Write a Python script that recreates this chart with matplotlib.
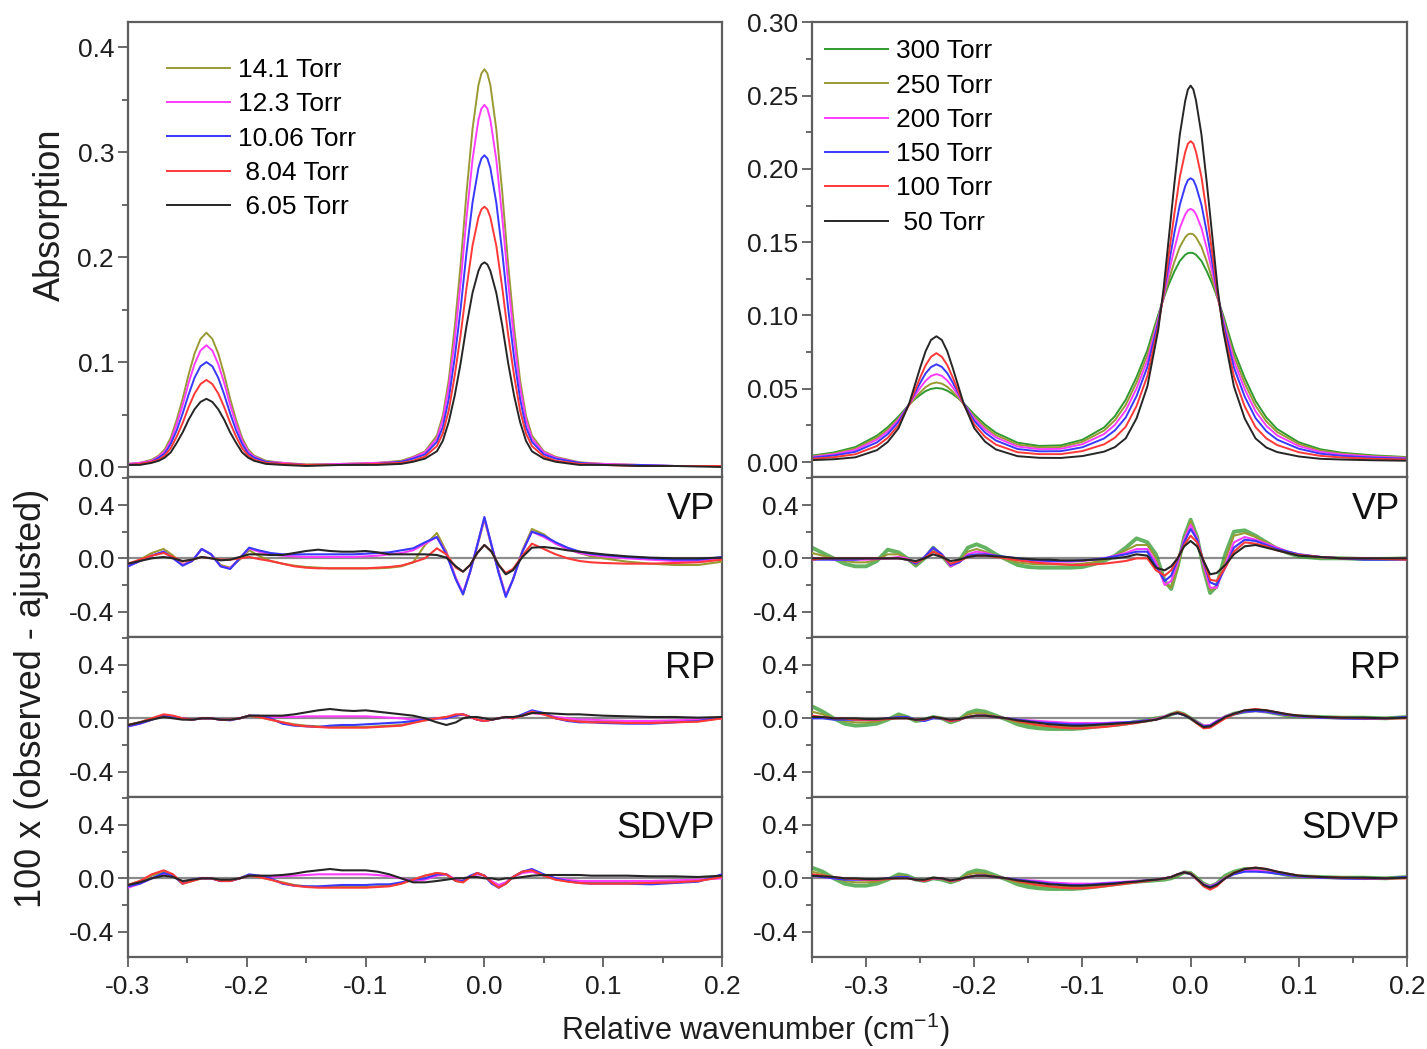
import matplotlib
matplotlib.use("Agg")
import matplotlib.pyplot as plt
from matplotlib.ticker import MultipleLocator, FuncFormatter

plt.rcParams["font.family"] = ["Liberation Sans", "DejaVu Sans"]
plt.rcParams["axes.unicode_minus"] = False
plt.rcParams["mathtext.default"] = "regular"

# ---------------- absorption spectra, left (low pressure) ----------------
x_abs_l = [-0.300, -0.290, -0.280, -0.274, -0.269, -0.264, -0.259, -0.254, -0.249, -0.244,
           -0.239, -0.234, -0.229, -0.224, -0.219, -0.214, -0.209, -0.204, -0.199, -0.194,
           -0.184, -0.170, -0.150, -0.120, -0.090, -0.070, -0.060, -0.050, -0.040, -0.035,
           -0.030, -0.025, -0.020, -0.015, -0.010, -0.005, -0.0025, 0.000, 0.0025, 0.005, 0.010,
           0.015, 0.020, 0.025, 0.030, 0.035, 0.040, 0.050, 0.060, 0.080, 0.100, 0.130, 0.160, 0.200]
abs_141 = [0.003, 0.004, 0.007, 0.011, 0.017, 0.028, 0.045, 0.065, 0.088, 0.108, 0.122, 0.128, 0.122,
           0.108, 0.088, 0.065, 0.045, 0.028, 0.017, 0.011, 0.006, 0.004, 0.0025, 0.003, 0.004, 0.006,
           0.0097, 0.015, 0.030, 0.049, 0.083, 0.133, 0.193, 0.262, 0.322, 0.364, 0.375, 0.379, 0.375,
           0.364, 0.322, 0.262, 0.193, 0.133, 0.083, 0.049, 0.030, 0.015, 0.0097, 0.0045, 0.003, 0.002,
           0.001, 0.001]
abs_123 = [0.003, 0.004, 0.006, 0.010, 0.015, 0.025, 0.041, 0.059, 0.080, 0.098, 0.111, 0.116, 0.111,
           0.098, 0.080, 0.059, 0.041, 0.025, 0.015, 0.010, 0.005, 0.004, 0.002, 0.003, 0.004, 0.005,
           0.009, 0.014, 0.027, 0.045, 0.076, 0.121, 0.176, 0.238, 0.293, 0.331, 0.3415, 0.345, 0.3415,
           0.331, 0.293, 0.238, 0.176, 0.121, 0.076, 0.045, 0.027, 0.014, 0.009, 0.004, 0.003, 0.002,
           0.001, 0.001]
abs_1006 = [0.002, 0.003, 0.005, 0.009, 0.013, 0.022, 0.035, 0.051, 0.069, 0.085, 0.096, 0.100, 0.096,
            0.085, 0.069, 0.051, 0.035, 0.022, 0.013, 0.009, 0.005, 0.003, 0.002, 0.002, 0.003, 0.005,
            0.008, 0.012, 0.024, 0.038, 0.065, 0.104, 0.151, 0.205, 0.252, 0.285, 0.294, 0.297, 0.294,
            0.285, 0.252, 0.205, 0.151, 0.104, 0.065, 0.038, 0.024, 0.012, 0.008, 0.004, 0.002, 0.002,
            0.001, 0.001]
abs_804 = [0.002, 0.003, 0.005, 0.007, 0.011, 0.018, 0.029, 0.042, 0.057, 0.070, 0.079, 0.083, 0.079,
           0.070, 0.057, 0.042, 0.029, 0.018, 0.011, 0.007, 0.004, 0.003, 0.002, 0.002, 0.003, 0.004,
           0.006, 0.010, 0.020, 0.032, 0.054, 0.087, 0.126, 0.171, 0.211, 0.238, 0.2455, 0.248, 0.2455,
           0.238, 0.211, 0.171, 0.126, 0.087, 0.054, 0.032, 0.020, 0.010, 0.006, 0.003, 0.002, 0.001,
           0.001, 0.001]
abs_605 = [0.002, 0.002, 0.004, 0.006, 0.009, 0.014, 0.023, 0.033, 0.045, 0.055, 0.062, 0.065, 0.062,
           0.055, 0.045, 0.033, 0.023, 0.014, 0.009, 0.006, 0.003, 0.002, 0.001, 0.002, 0.002, 0.003,
           0.005, 0.008, 0.015, 0.025, 0.043, 0.068, 0.099, 0.135, 0.166, 0.187, 0.193, 0.195, 0.193,
           0.187, 0.166, 0.135, 0.099, 0.068, 0.043, 0.025, 0.015, 0.008, 0.005, 0.002, 0.002, 0.001,
           0.001, 0.000]

# ---------------- absorption spectra, right (high pressure) ----------------
x_abs_r = [-0.350, -0.330, -0.310, -0.290, -0.280, -0.270, -0.260, -0.255, -0.250, -0.245,
           -0.240, -0.235, -0.230, -0.225, -0.220, -0.215, -0.210, -0.200, -0.190, -0.180,
           -0.160, -0.140, -0.120, -0.100, -0.080, -0.070, -0.060, -0.050, -0.040, -0.030,
           -0.025, -0.020, -0.015, -0.010, -0.005, -0.0025, 0.000, 0.0025, 0.005, 0.010, 0.015,
           0.020, 0.025, 0.030, 0.040, 0.050, 0.060, 0.070, 0.080, 0.100, 0.120, 0.140, 0.170, 0.200]
abs_300 = [0.0044, 0.0065, 0.0102, 0.0180, 0.0238, 0.0311, 0.0394, 0.0429, 0.0458, 0.0484, 0.0499,
           0.0505, 0.0501, 0.0487, 0.0464, 0.0436, 0.0403, 0.0324, 0.0255, 0.0200, 0.0132, 0.0110,
           0.0114, 0.0152, 0.0236, 0.0313, 0.0425, 0.0580, 0.0764, 0.1004, 0.1117, 0.1216, 0.1301,
           0.1372, 0.1414, 0.1425, 0.1428, 0.1425, 0.1414, 0.1372, 0.1300, 0.1215, 0.1116, 0.1003,
           0.0759, 0.0574, 0.0417, 0.0304, 0.0225, 0.0135, 0.0087, 0.0063, 0.0045, 0.0034]
abs_250 = [0.0040, 0.0058, 0.0092, 0.0166, 0.0223, 0.0298, 0.0391, 0.0435, 0.0475, 0.0511, 0.0534,
           0.0543, 0.0535, 0.0514, 0.0480, 0.0441, 0.0398, 0.0309, 0.0238, 0.0184, 0.0119, 0.0099,
           0.0102, 0.0138, 0.0215, 0.0285, 0.0390, 0.0543, 0.0730, 0.0986, 0.1118, 0.1248, 0.1366,
           0.1468, 0.1533, 0.1553, 0.1558, 0.1553, 0.1533, 0.1468, 0.1366, 0.1247, 0.1117, 0.0985,
           0.0725, 0.0537, 0.0384, 0.0277, 0.0205, 0.0123, 0.0078, 0.0057, 0.0040, 0.0031]
abs_200 = [0.0035, 0.0052, 0.0083, 0.0153, 0.0209, 0.0288, 0.0395, 0.0452, 0.0506, 0.0555, 0.0587,
           0.0600, 0.0588, 0.0557, 0.0510, 0.0457, 0.0401, 0.0297, 0.0222, 0.0168, 0.0106, 0.0088,
           0.0090, 0.0122, 0.0191, 0.0254, 0.0352, 0.0502, 0.0694, 0.0971, 0.1129, 0.1298, 0.1456,
           0.1597, 0.1689, 0.1718, 0.1727, 0.1718, 0.1689, 0.1597, 0.1456, 0.1297, 0.1128, 0.0970,
           0.0690, 0.0497, 0.0346, 0.0247, 0.0182, 0.0109, 0.0069, 0.0051, 0.0036, 0.0027]
abs_150 = [0.0030, 0.0044, 0.0070, 0.0134, 0.0191, 0.0274, 0.0397, 0.0470, 0.0540, 0.0605, 0.0648,
           0.0667, 0.0649, 0.0607, 0.0543, 0.0474, 0.0401, 0.0281, 0.0201, 0.0147, 0.0089, 0.0073,
           0.0074, 0.0101, 0.0161, 0.0216, 0.0304, 0.0450, 0.0649, 0.0952, 0.1141, 0.1357, 0.1565,
           0.1755, 0.1882, 0.1924, 0.1936, 0.1924, 0.1882, 0.1755, 0.1565, 0.1357, 0.1140, 0.0951,
           0.0645, 0.0446, 0.0300, 0.0210, 0.0153, 0.0091, 0.0057, 0.0042, 0.0030, 0.0023]
abs_100 = [0.0022, 0.0033, 0.0053, 0.0110, 0.0165, 0.0252, 0.0394, 0.0486, 0.0577, 0.0660, 0.0718,
           0.0743, 0.0718, 0.0662, 0.0579, 0.0488, 0.0397, 0.0256, 0.0172, 0.0119, 0.0067, 0.0054,
           0.0054, 0.0075, 0.0121, 0.0166, 0.0241, 0.0382, 0.0587, 0.0923, 0.1150, 0.1425, 0.1696,
           0.1945, 0.2115, 0.2172, 0.2189, 0.2172, 0.2115, 0.1945, 0.1696, 0.1425, 0.1149, 0.0922,
           0.0585, 0.0379, 0.0238, 0.0161, 0.0116, 0.0067, 0.0042, 0.0031, 0.0022, 0.0017]
abs_50 = [0.0013, 0.0019, 0.0032, 0.0081, 0.0137, 0.0231, 0.0403, 0.0524, 0.0644, 0.0756, 0.0833,
          0.0858, 0.0833, 0.0756, 0.0644, 0.0524, 0.0403, 0.0231, 0.0139, 0.0086, 0.0040, 0.0029,
          0.0028, 0.0041, 0.0071, 0.0102, 0.0162, 0.0298, 0.0516, 0.0900, 0.1183, 0.1542, 0.1901,
          0.2234, 0.2465, 0.2542, 0.2568, 0.2542, 0.2465, 0.2234, 0.1901, 0.1542, 0.1182, 0.0900,
          0.0516, 0.0297, 0.0161, 0.0099, 0.0068, 0.0038, 0.0022, 0.0017, 0.0012, 0.0009]

# ---------------- residuals x 100, left ----------------
x_res_l = [-0.300, -0.290, -0.280, -0.270,
           -0.262, -0.254, -0.246, -0.238, -0.230, -0.222, -0.214, -0.206, -0.198, -0.190,
           -0.180, -0.170, -0.160, -0.150, -0.140, -0.130, -0.120, -0.110, -0.100, -0.090,
           -0.080, -0.070, -0.060, -0.050,
           -0.040, -0.032, -0.024, -0.018, -0.012, -0.006, 0.000, 0.006, 0.012, 0.018, 0.024,
           0.032, 0.040,
           0.050, 0.060, 0.070, 0.080, 0.090, 0.100,
           0.120, 0.140, 0.160, 0.180, 0.200]
vp_141 = [-0.05, -0.01, 0.04, 0.07,
          0.02, -0.05, -0.02, 0.07, 0.03, -0.05, -0.07, -0.01, 0.06, 0.02,
          -0.02, -0.04, -0.055, -0.065, -0.07, -0.075, -0.075, -0.075, -0.075, -0.075, -0.07, -0.06, -0.03, 0.10,
          0.19, 0.05, -0.15, -0.27, -0.10, 0.09, 0.29, 0.09, -0.10, -0.28, -0.16, 0.06, 0.22,
          0.18, 0.11, 0.07, 0.04, 0.015, 0.0,
          -0.025, -0.04, -0.05, -0.05, -0.025]
vp_123 = [-0.06, -0.02, 0.02, 0.05,
          0.0, -0.05, -0.02, 0.07, 0.03, -0.06, -0.075, 0.0, 0.075, 0.05,
          0.03, 0.02, 0.015, 0.01, 0.01, 0.01, 0.01, 0.01, 0.015, 0.02, 0.03, 0.04, 0.06, 0.11,
          0.16, 0.04, -0.15, -0.26, -0.10, 0.10, 0.30, 0.10, -0.10, -0.28, -0.16, 0.05, 0.20,
          0.16, 0.11, 0.07, 0.04, 0.025, 0.015,
          0.0, -0.01, -0.02, -0.02, 0.0]
vp_1006 = [-0.06, -0.02, 0.02, 0.05,
           0.0, -0.055, -0.02, 0.07, 0.03, -0.06, -0.08, 0.0, 0.08, 0.06,
           0.04, 0.03, 0.03, 0.03, 0.03, 0.03, 0.03, 0.03, 0.035, 0.04, 0.045, 0.06, 0.075, 0.12,
           0.16, 0.03, -0.16, -0.27, -0.10, 0.10, 0.31, 0.10, -0.11, -0.29, -0.16, 0.05, 0.20,
           0.17, 0.12, 0.08, 0.05, 0.035, 0.025,
           0.01, 0.0, -0.01, -0.01, 0.01]
vp_804 = [-0.04, -0.01, 0.02, 0.04,
          0.01, -0.025, -0.01, 0.01, 0.0, -0.01, -0.01, 0.0, 0.01, -0.005,
          -0.02, -0.04, -0.06, -0.07, -0.075, -0.075, -0.075, -0.075, -0.075, -0.07, -0.065, -0.055, -0.03, 0.0,
          0.075, 0.03, -0.07, -0.10, -0.05, 0.04, 0.10, 0.05, -0.05, -0.11, -0.08, 0.02, 0.11,
          0.07, 0.03, 0.0, -0.02, -0.03, -0.035,
          -0.04, -0.04, -0.035, -0.03, -0.01]
vp_605 = [-0.04, -0.02, 0.0, 0.01,
          0.0, -0.02, -0.01, 0.01, 0.0, -0.015, -0.01, 0.01, 0.03, 0.03,
          0.025, 0.025, 0.04, 0.055, 0.065, 0.055, 0.05, 0.05, 0.055, 0.045, 0.03, 0.03, 0.03, 0.03,
          0.025, 0.005, -0.06, -0.10, -0.05, 0.04, 0.10, 0.05, -0.05, -0.12, -0.09, 0.01, 0.08,
          0.085, 0.075, 0.06, 0.05, 0.04, 0.03,
          0.015, 0.005, 0.0, 0.0, 0.005]

rp_141 = [-0.05, -0.03, 0.0, 0.02,
          0.01, 0.0, -0.01, 0.0, 0.0, -0.01, -0.01, 0.0, 0.02, 0.01,
          -0.01, -0.03, -0.045, -0.055, -0.06, -0.065, -0.065, -0.065, -0.065, -0.06, -0.055, -0.05, -0.03, -0.015,
          0.0, 0.01, 0.02, 0.03, 0.01, -0.01, -0.02, -0.01, 0.0, 0.01, 0.0, 0.02, 0.04,
          0.03, 0.0, -0.015, -0.02, -0.025, -0.025,
          -0.03, -0.03, -0.025, -0.02, 0.0]
rp_123 = [-0.06, -0.04, -0.01, 0.02,
          0.01, 0.0, -0.01, 0.0, 0.0, -0.01, -0.01, 0.0, 0.02, 0.015,
          0.01, 0.01, 0.01, 0.015, 0.015, 0.015, 0.015, 0.015, 0.015, 0.01, 0.005, 0.0, -0.01, -0.01,
          0.0, 0.0, 0.02, 0.03, 0.01, -0.01, -0.02, -0.01, 0.0, 0.01, 0.0, 0.02, 0.04,
          0.03, 0.01, 0.0, -0.01, -0.01, -0.015,
          -0.02, -0.02, -0.015, -0.01, 0.0]
rp_1006 = [-0.06, -0.04, -0.01, 0.02,
           0.01, 0.0, -0.01, 0.0, 0.0, -0.01, -0.015, 0.0, 0.02, 0.02,
           0.0, -0.04, -0.055, -0.06, -0.065, -0.055, -0.05, -0.05, -0.045, -0.04, -0.035, -0.03, -0.02, -0.01,
           0.0, 0.0, 0.02, 0.03, 0.01, -0.01, -0.02, -0.01, 0.0, 0.01, 0.0, 0.03, 0.06,
           0.04, 0.0, -0.02, -0.03, -0.03, -0.035,
           -0.04, -0.04, -0.03, -0.02, 0.01]
rp_804 = [-0.05, -0.03, 0.0, 0.03,
          0.02, 0.0, -0.01, 0.0, 0.0, -0.01, -0.01, 0.0, 0.02, 0.01,
          -0.01, -0.03, -0.05, -0.06, -0.065, -0.07, -0.07, -0.07, -0.07, -0.065, -0.06, -0.055, -0.035, -0.015,
          0.0, 0.01, 0.03, 0.03, 0.01, -0.01, -0.02, -0.01, 0.0, 0.01, 0.0, 0.02, 0.05,
          0.03, 0.0, -0.015, -0.025, -0.03, -0.03,
          -0.035, -0.035, -0.03, -0.025, 0.0]
rp_605 = [-0.05, -0.03, -0.01, 0.01,
          0.0, -0.01, -0.01, 0.0, 0.0, -0.01, -0.01, 0.0, 0.02, 0.02,
          0.02, 0.02, 0.03, 0.045, 0.06, 0.07, 0.06, 0.055, 0.06, 0.05, 0.04, 0.03, 0.02, 0.0,
          -0.03, -0.05, -0.03, 0.0, 0.01, 0.01, 0.0, -0.01, 0.0, 0.01, 0.01, 0.02, 0.04,
          0.04, 0.035, 0.03, 0.03, 0.025, 0.02,
          0.015, 0.01, 0.01, 0.005, 0.01]

sd_141 = [-0.05, -0.02, 0.02, 0.05,
          0.02, -0.04, -0.02, 0.0, 0.0, -0.02, -0.02, 0.0, 0.02, 0.01,
          -0.01, -0.03, -0.05, -0.06, -0.065, -0.065, -0.065, -0.065, -0.065, -0.06, -0.055, -0.04, -0.01, 0.02,
          0.04, 0.03, -0.02, -0.03, 0.01, 0.04, 0.02, -0.03, -0.06, -0.04, 0.01, 0.05, 0.06,
          0.02, -0.01, -0.02, -0.03, -0.035, -0.035,
          -0.035, -0.03, -0.025, -0.02, 0.01]
sd_123 = [-0.07, -0.04, 0.0, 0.03,
          0.02, -0.03, -0.01, 0.0, 0.0, -0.02, -0.02, 0.0, 0.02, 0.02,
          0.01, 0.015, 0.02, 0.025, 0.03, 0.03, 0.03, 0.03, 0.03, 0.025, 0.015, 0.0, -0.02, -0.01,
          0.02, 0.03, -0.01, -0.02, 0.01, 0.03, 0.02, -0.02, -0.05, -0.03, 0.01, 0.04, 0.05,
          0.02, 0.0, -0.01, -0.02, -0.02, -0.02,
          -0.02, -0.02, -0.015, -0.01, 0.0]
sd_1006 = [-0.06, -0.04, 0.0, 0.04,
           0.02, -0.04, -0.01, 0.0, 0.0, -0.02, -0.02, 0.0, 0.03, 0.02,
           0.0, -0.04, -0.055, -0.06, -0.06, -0.055, -0.05, -0.05, -0.05, -0.045, -0.045, -0.03, -0.01, 0.0,
           0.03, 0.03, -0.02, -0.02, 0.02, 0.04, 0.02, -0.04, -0.07, -0.04, 0.01, 0.05, 0.07,
           0.03, 0.0, -0.02, -0.035, -0.04, -0.04,
           -0.04, -0.045, -0.035, -0.025, 0.03]
sd_804 = [-0.05, -0.02, 0.03, 0.06,
          0.03, -0.04, -0.02, 0.0, 0.0, -0.02, -0.02, 0.0, 0.02, 0.01,
          -0.01, -0.035, -0.055, -0.065, -0.07, -0.07, -0.07, -0.07, -0.07, -0.065, -0.06, -0.04, -0.01, 0.02,
          0.04, 0.03, -0.02, -0.03, 0.01, 0.04, 0.02, -0.03, -0.07, -0.04, 0.01, 0.05, 0.06,
          0.02, -0.01, -0.025, -0.035, -0.04, -0.04,
          -0.04, -0.035, -0.03, -0.02, 0.01]
sd_605 = [-0.05, -0.03, 0.0, 0.02,
          0.01, -0.02, -0.01, 0.0, 0.0, -0.01, -0.01, 0.0, 0.02, 0.02,
          0.02, 0.025, 0.035, 0.05, 0.06, 0.07, 0.06, 0.06, 0.06, 0.05, 0.03, 0.0, -0.03, -0.03,
          -0.02, -0.01, 0.0, 0.0, 0.01, 0.01, 0.0, 0.0, -0.01, 0.0, 0.0, 0.01, 0.02,
          0.025, 0.025, 0.025, 0.025, 0.02, 0.02,
          0.02, 0.015, 0.015, 0.01, 0.02]

# ---------------- residuals x 100, right ----------------
x_res_r = [-0.350, -0.340, -0.330, -0.320, -0.310, -0.300, -0.290, -0.280, -0.270,
           -0.262, -0.254, -0.246, -0.238, -0.230, -0.222, -0.214, -0.206, -0.198, -0.190,
           -0.180, -0.170, -0.160, -0.150, -0.140, -0.130, -0.120, -0.110, -0.100, -0.090,
           -0.080, -0.070, -0.060, -0.050, -0.040,
           -0.032, -0.024, -0.018, -0.012, -0.006, 0.000, 0.006, 0.012, 0.018, 0.024, 0.032,
           0.040, 0.050, 0.060, 0.070, 0.080, 0.090, 0.100,
           0.120, 0.140, 0.160, 0.180, 0.200]
vp_300 = [0.08, 0.04, 0.0, -0.04, -0.06, -0.06, -0.02, 0.065, 0.045,
          0.0, -0.055, 0.0, 0.08, 0.02, -0.055, -0.02, 0.08, 0.105, 0.08,
          0.03, -0.01, -0.05, -0.065, -0.07, -0.07, -0.07, -0.07, -0.065, -0.045, -0.02, 0.02, 0.08, 0.15, 0.12,
          0.03, -0.17, -0.23, -0.06, 0.16, 0.29, 0.16, -0.08, -0.26, -0.21, 0.03,
          0.20, 0.21, 0.17, 0.12, 0.07, 0.04, 0.015,
          0.0, 0.0, -0.005, -0.005, 0.0]
vp_250 = [0.04, 0.02, 0.0, -0.02, -0.03, -0.03, -0.01, 0.03, 0.03,
          0.0, -0.05, 0.0, 0.08, 0.02, -0.06, -0.02, 0.05, 0.07, 0.05,
          0.02, -0.01, -0.03, -0.04, -0.045, -0.045, -0.045, -0.045, -0.04, -0.03, -0.01, 0.02, 0.06, 0.10, 0.10,
          0.0, -0.19, -0.22, -0.07, 0.14, 0.28, 0.15, -0.07, -0.24, -0.22, -0.01,
          0.17, 0.19, 0.16, 0.12, 0.08, 0.05, 0.025,
          0.005, 0.0, -0.005, -0.005, 0.0]
vp_200 = [0.0, 0.0, -0.01, -0.01, -0.01, -0.01, -0.005, 0.0, 0.01,
          0.0, -0.04, 0.01, 0.08, 0.03, -0.06, -0.03, 0.03, 0.05, 0.04,
          0.02, 0.0, -0.01, -0.02, -0.025, -0.025, -0.025, -0.025, -0.02, -0.01, 0.0, 0.02, 0.04, 0.07, 0.07,
          -0.03, -0.20, -0.17, -0.03, 0.14, 0.25, 0.15, -0.05, -0.22, -0.22, -0.05,
          0.12, 0.16, 0.14, 0.11, 0.08, 0.05, 0.03,
          0.01, 0.0, 0.0, -0.005, 0.0]
vp_150 = [-0.01, -0.01, -0.01, -0.01, -0.01, 0.0, 0.0, 0.0, 0.0,
          -0.01, -0.04, 0.01, 0.08, 0.03, -0.05, -0.03, 0.02, 0.03, 0.03,
          0.02, 0.01, 0.0, -0.01, -0.015, -0.02, -0.02, -0.02, -0.015, -0.01, 0.0, 0.015, 0.03, 0.05, 0.05,
          -0.06, -0.17, -0.13, -0.01, 0.12, 0.22, 0.14, -0.03, -0.18, -0.20, -0.07,
          0.08, 0.14, 0.13, 0.10, 0.07, 0.05, 0.03,
          0.01, 0.0, -0.01, -0.01, -0.01]
vp_100 = [-0.01, 0.0, 0.0, 0.0, 0.0, 0.0, 0.0, 0.0, 0.0,
          -0.01, -0.03, 0.0, 0.05, 0.02, -0.04, -0.02, 0.01, 0.02, 0.02,
          0.01, 0.0, -0.015, -0.025, -0.035, -0.04, -0.045, -0.05, -0.05, -0.045, -0.04, -0.03, -0.02, 0.0, 0.0,
          -0.09, -0.13, -0.09, 0.0, 0.10, 0.17, 0.12, -0.02, -0.16, -0.17, -0.07,
          0.05, 0.12, 0.11, 0.09, 0.06, 0.04, 0.025,
          0.01, 0.0, 0.0, -0.005, -0.01]
vp_50 = [0.0, 0.0, 0.0, 0.0, 0.0, 0.0, 0.0, 0.0, 0.0,
         -0.01, -0.02, 0.0, 0.03, 0.01, -0.02, -0.01, 0.01, 0.02, 0.02,
         0.015, 0.01, 0.0, -0.005, -0.01, -0.01, -0.015, -0.015, -0.015, -0.01, -0.005, 0.0, 0.01, 0.03, 0.02,
         -0.07, -0.09, -0.06, 0.0, 0.09, 0.13, 0.09, -0.02, -0.12, -0.11, -0.05,
         0.03, 0.09, 0.10, 0.08, 0.06, 0.04, 0.02,
         0.01, 0.0, 0.0, 0.0, 0.0]

rp_300 = [0.09, 0.05, 0.0, -0.04, -0.055, -0.05, -0.04, -0.01, 0.03,
          0.01, -0.02, -0.01, 0.01, 0.0, -0.03, -0.01, 0.04, 0.06, 0.05,
          0.02, -0.01, -0.045, -0.065, -0.075, -0.08, -0.08, -0.08, -0.075, -0.065, -0.055, -0.05, -0.04, -0.025, -0.015,
          0.0, 0.01, 0.03, 0.045, 0.03, 0.0, -0.03, -0.06, -0.06, -0.03, 0.01,
          0.035, 0.05, 0.06, 0.05, 0.035, 0.02, 0.015,
          0.01, 0.005, 0.005, 0.0, 0.01]
rp_250 = [0.05, 0.03, 0.0, -0.02, -0.03, -0.03, -0.025, -0.005, 0.02,
          0.01, -0.015, -0.01, 0.01, 0.0, -0.025, -0.01, 0.03, 0.04, 0.035,
          0.015, -0.005, -0.03, -0.045, -0.055, -0.06, -0.06, -0.06, -0.055, -0.05, -0.045, -0.04, -0.035, -0.025, -0.015,
          0.0, 0.01, 0.03, 0.045, 0.03, 0.0, -0.03, -0.06, -0.055, -0.03, 0.01,
          0.035, 0.05, 0.06, 0.05, 0.035, 0.02, 0.015,
          0.01, 0.005, 0.0, 0.0, 0.005]
rp_200 = [0.01, 0.005, 0.0, -0.005, -0.01, -0.01, -0.01, 0.0, 0.005,
          0.005, -0.01, -0.015, 0.005, 0.0, -0.02, -0.01, 0.01, 0.02, 0.02,
          0.01, 0.0, -0.01, -0.015, -0.02, -0.025, -0.03, -0.035, -0.035, -0.035, -0.035, -0.03, -0.03, -0.025, -0.015,
          -0.005, 0.015, 0.03, 0.04, 0.025, 0.0, -0.03, -0.055, -0.05, -0.02, 0.015,
          0.035, 0.05, 0.055, 0.05, 0.035, 0.025, 0.015,
          0.005, 0.0, 0.0, 0.0, 0.005]
rp_150 = [0.0, 0.0, -0.01, -0.01, -0.01, -0.01, -0.01, 0.0, 0.01,
          0.01, -0.01, -0.02, 0.0, 0.0, -0.02, -0.01, 0.01, 0.02, 0.02,
          0.01, 0.0, -0.01, -0.02, -0.03, -0.035, -0.04, -0.045, -0.045, -0.045, -0.04, -0.035, -0.03, -0.025, -0.015,
          -0.01, 0.01, 0.03, 0.04, 0.025, 0.0, -0.035, -0.06, -0.055, -0.025, 0.01,
          0.03, 0.05, 0.055, 0.05, 0.035, 0.025, 0.015,
          0.005, 0.0, -0.005, 0.0, 0.01]
rp_100 = [0.02, 0.01, 0.0, 0.0, -0.01, -0.01, -0.01, -0.005, 0.0,
          0.0, -0.01, -0.01, 0.01, 0.0, -0.02, -0.01, 0.01, 0.02, 0.02,
          0.01, 0.0, -0.02, -0.035, -0.05, -0.06, -0.07, -0.075, -0.075, -0.07, -0.065, -0.055, -0.045, -0.035, -0.02,
          -0.01, 0.01, 0.03, 0.045, 0.03, 0.0, -0.04, -0.075, -0.07, -0.04, 0.0,
          0.03, 0.06, 0.07, 0.06, 0.045, 0.03, 0.02,
          0.01, 0.005, 0.0, 0.0, 0.0]
rp_50 = [0.01, 0.01, 0.0, 0.0, 0.0, -0.005, -0.005, 0.0, 0.0,
         0.0, -0.01, -0.005, 0.01, 0.0, -0.01, -0.005, 0.01, 0.02, 0.02,
         0.01, 0.0, -0.015, -0.025, -0.035, -0.045, -0.05, -0.055, -0.055, -0.05, -0.045, -0.04, -0.035, -0.03, -0.02,
         -0.01, 0.01, 0.03, 0.04, 0.025, 0.0, -0.035, -0.065, -0.06, -0.03, 0.01,
         0.035, 0.06, 0.065, 0.06, 0.045, 0.03, 0.02,
         0.01, 0.005, 0.005, 0.0, 0.005]

sd_300 = [0.08, 0.05, 0.0, -0.04, -0.055, -0.055, -0.04, -0.01, 0.03,
          0.02, -0.01, -0.02, 0.0, -0.01, -0.03, -0.01, 0.04, 0.06, 0.05,
          0.02, -0.01, -0.045, -0.065, -0.075, -0.08, -0.08, -0.08, -0.075, -0.065, -0.055, -0.045, -0.035, -0.025, -0.02,
          -0.015, -0.01, 0.0, 0.02, 0.045, 0.04, 0.0, -0.04, -0.06, -0.04, 0.02,
          0.05, 0.07, 0.07, 0.055, 0.04, 0.025, 0.015,
          0.01, 0.005, 0.005, 0.0, 0.01]
sd_250 = [0.05, 0.03, 0.005, -0.02, -0.03, -0.03, -0.025, -0.005, 0.02,
          0.015, -0.01, -0.02, 0.0, -0.005, -0.025, -0.01, 0.03, 0.04, 0.035,
          0.015, -0.005, -0.03, -0.045, -0.055, -0.06, -0.065, -0.065, -0.06, -0.055, -0.05, -0.04, -0.03, -0.025, -0.015,
          -0.01, -0.005, 0.005, 0.025, 0.045, 0.04, 0.0, -0.045, -0.065, -0.045, 0.01,
          0.045, 0.065, 0.07, 0.055, 0.04, 0.025, 0.015,
          0.01, 0.005, 0.0, 0.0, 0.005]
sd_200 = [0.02, 0.01, 0.0, -0.005, -0.01, -0.01, -0.01, 0.0, 0.005,
          0.005, -0.01, -0.015, 0.0, 0.0, -0.02, -0.01, 0.01, 0.02, 0.02,
          0.01, 0.0, -0.01, -0.015, -0.02, -0.03, -0.035, -0.04, -0.04, -0.04, -0.035, -0.03, -0.025, -0.02, -0.015,
          -0.01, 0.0, 0.01, 0.03, 0.045, 0.035, -0.005, -0.045, -0.06, -0.04, 0.005,
          0.035, 0.055, 0.06, 0.05, 0.04, 0.025, 0.015,
          0.005, 0.0, 0.0, 0.0, 0.005]
sd_150 = [0.02, 0.01, 0.0, -0.01, -0.01, -0.01, -0.01, 0.0, 0.01,
          0.01, -0.01, -0.02, 0.0, 0.0, -0.02, -0.01, 0.01, 0.02, 0.02,
          0.01, 0.0, -0.01, -0.02, -0.03, -0.04, -0.045, -0.05, -0.05, -0.045, -0.04, -0.035, -0.03, -0.025, -0.015,
          -0.01, 0.0, 0.01, 0.03, 0.045, 0.03, -0.01, -0.05, -0.065, -0.045, 0.0,
          0.03, 0.05, 0.05, 0.045, 0.035, 0.025, 0.015,
          0.005, 0.0, -0.005, 0.0, 0.01]
sd_100 = [0.03, 0.02, 0.01, 0.0, -0.005, -0.01, -0.01, -0.005, 0.0,
          0.0, -0.01, -0.02, 0.0, 0.0, -0.02, -0.01, 0.01, 0.02, 0.02,
          0.01, 0.0, -0.02, -0.035, -0.05, -0.06, -0.07, -0.075, -0.075, -0.07, -0.06, -0.05, -0.04, -0.03, -0.02,
          -0.01, 0.0, 0.01, 0.03, 0.045, 0.035, -0.01, -0.06, -0.085, -0.06, 0.0,
          0.04, 0.07, 0.08, 0.07, 0.05, 0.035, 0.02,
          0.01, 0.005, 0.0, 0.0, 0.0]
sd_50 = [0.02, 0.015, 0.01, 0.0, 0.0, -0.005, -0.005, 0.0, 0.0,
         0.0, -0.01, -0.01, 0.005, 0.0, -0.015, -0.005, 0.01, 0.02, 0.02,
         0.01, 0.0, -0.015, -0.025, -0.035, -0.045, -0.05, -0.055, -0.055, -0.05, -0.045, -0.04, -0.03, -0.025, -0.015,
         -0.01, 0.0, 0.01, 0.03, 0.045, 0.035, -0.005, -0.05, -0.07, -0.05, 0.0,
         0.04, 0.07, 0.08, 0.07, 0.05, 0.035, 0.02,
         0.01, 0.005, 0.005, 0.0, 0.005]

# colours
olive, magenta, blue, red, black, green = "#9a9a35", "#ff3cff", "#3838ff", "#ff3838", "#262626", "#2f9a2f"

left_series = [("14.1 Torr", olive, abs_141, vp_141, rp_141, sd_141),
               ("12.3 Torr", magenta, abs_123, vp_123, rp_123, sd_123),
               ("10.06 Torr", blue, abs_1006, vp_1006, rp_1006, sd_1006),
               (" 8.04 Torr", red, abs_804, vp_804, rp_804, sd_804),
               (" 6.05 Torr", black, abs_605, vp_605, rp_605, sd_605)]
right_series = [("300 Torr", green, abs_300, vp_300, rp_300, sd_300),
                ("250 Torr", olive, abs_250, vp_250, rp_250, sd_250),
                ("200 Torr", magenta, abs_200, vp_200, rp_200, sd_200),
                ("150 Torr", blue, abs_150, vp_150, rp_150, sd_150),
                ("100 Torr", red, abs_100, vp_100, rp_100, sd_100),
                (" 50 Torr", black, abs_50, vp_50, rp_50, sd_50)]

W, H = 1427, 1049
fig = plt.figure(figsize=(W / 100, H / 100), dpi=100)
frame = "#5e5e5e"


def px_axes(left, top, right, bottom):
    return fig.add_axes([left / W, 1 - bottom / H, (right - left) / W, (bottom - top) / H])


def fmt(decimals):
    return FuncFormatter(lambda v, p: "%.*f" % (decimals, round(v, decimals) + 0.0))


def style(ax, xlim, ylim, ymaj, ymin, ydec, xlabels):
    ax.set_xlim(*xlim)
    ax.set_ylim(*ylim)
    ax.xaxis.set_major_locator(MultipleLocator(0.1))
    ax.xaxis.set_minor_locator(MultipleLocator(0.05))
    ax.xaxis.set_major_formatter(fmt(1))
    ax.yaxis.set_major_locator(MultipleLocator(ymaj))
    ax.yaxis.set_minor_locator(MultipleLocator(ymin))
    ax.yaxis.set_major_formatter(fmt(ydec))
    ax.tick_params(which="both", direction="out", color=frame, width=1.3,
                   labelsize=19, labelcolor="#1e1e1e")
    ax.tick_params(which="major", length=7)
    ax.tick_params(which="minor", length=4.5)
    ax.tick_params(axis="x", pad=6, labelbottom=xlabels)
    ax.tick_params(axis="y", pad=3)
    for s in ax.spines.values():
        s.set_color(frame)
        s.set_linewidth(1.6)


columns = [(128, 722, (-0.3, 0.2), x_abs_l, x_res_l, left_series, (-0.0095, 0.424), 0.1, 0.05, 1,
            (0.0657, 0.921)),
           (812, 1407, (-0.35, 0.2), x_abs_r, x_res_r, right_series, (-0.0102, 0.3002), 0.05, 0.025, 2,
            (0.022, 0.962))]
rows = [(477, 637, "VP"), (637, 797, "RP"), (797, 957, "SDVP")]

for (x0, x1, xlim, xa, xr, series, ylim, ymaj, ymin, ydec, anchor) in columns:
    ax = px_axes(x0, 22, x1, 477)
    for label, c, a, vp, rp, sd in series:
        ax.plot(xa, a, color=c, lw=1.4, label=label)
    style(ax, xlim, ylim, ymaj, ymin, ydec, False)
    ax.legend(loc="upper left", bbox_to_anchor=anchor, frameon=False, fontsize=19,
              handlelength=2.4, handletextpad=0.3, labelspacing=0.39,
              borderpad=0, borderaxespad=0)

    for k, (top, bot, name) in enumerate(rows):
        ax = px_axes(x0, top, x1, bot)
        ax.axhline(0, color="#8c8c8c", lw=1.6, zorder=1)
        for label, c, a, vp, rp, sd in series:
            vals = (vp, rp, sd)[k]
            if c == green:
                ax.plot(xr, vals, color=c, lw=2.8, alpha=0.75, zorder=2)
            else:
                ax.plot(xr, vals, color=c, lw=1.5, zorder=3)
        style(ax, xlim, (-0.59, 0.61), 0.4, 0.2, 1, k == 2)
        ax.text(0.988, 0.80, name, transform=ax.transAxes, ha="right", va="center",
                fontsize=26, color="#111111")

fig.text(50 / W, 1 - 215 / H, "Absorption", rotation=90, ha="center", va="center",
         fontsize=26, color="#1e1e1e")
fig.text(32 / W, 1 - 698 / H, "100 x (observed - ajusted)", rotation=90, ha="center",
         va="center", fontsize=26, color="#1e1e1e")
fig.text(755 / W, 1 - 1030 / H, "Relative wavenumber (cm$^{-1}$)", ha="center", va="center",
         fontsize=22, color="#1e1e1e")

fig.savefig("out.png", dpi=100)
